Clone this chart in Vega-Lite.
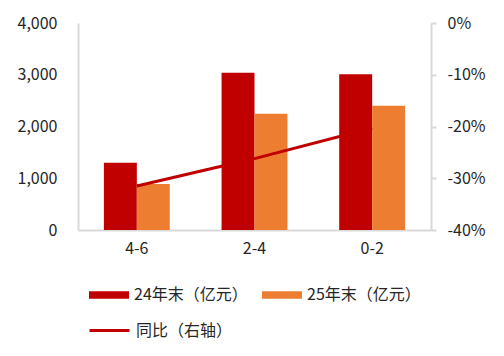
{
  "$schema": "https://vega.github.io/schema/vega-lite/v6.json",
  "width": 353,
  "height": 207,
  "autosize": {"type": "none"},
  "padding": {"left": 78, "top": 23, "right": 73, "bottom": 126},
  "background": "white",
  "config": {
    "view": {"stroke": null},
    "font": "Noto Sans CJK SC",
    "axis": {"labelFont": "Noto Sans CJK SC", "labelFontSize": 16, "labelColor": "#262626", "domainColor": "#d9d9d9", "domainWidth": 2, "grid": false, "title": null},
    "legend": {"labelFont": "Noto Sans CJK SC", "labelFontSize": 16, "labelColor": "#262626", "padding": 0, "title": null}
  },
  "datasets": {
    "bars": [
      {"cat": "4-6", "series": "24年末（亿元）", "value": 1300},
      {"cat": "4-6", "series": "25年末（亿元）", "value": 890},
      {"cat": "2-4", "series": "24年末（亿元）", "value": 3040},
      {"cat": "2-4", "series": "25年末（亿元）", "value": 2245},
      {"cat": "0-2", "series": "24年末（亿元）", "value": 3010},
      {"cat": "0-2", "series": "25年末（亿元）", "value": 2400}
    ],
    "line": [
      {"cat": "4-6", "name": "同比（右轴）", "yoy": -0.315},
      {"cat": "2-4", "name": "同比（右轴）", "yoy": -0.262},
      {"cat": "0-2", "name": "同比（右轴）", "yoy": -0.203}
    ]
  },
  "layer": [
    {
      "data": {"name": "bars"},
      "mark": {"type": "bar"},
      "encoding": {
        "x": {"field": "cat", "type": "nominal", "sort": ["4-6", "2-4", "0-2"],
              "scale": {"paddingInner": 0.44, "paddingOuter": 0.22},
              "axis": {"labelAngle": 0, "ticks": false, "labelPadding": 10, "title": null}},
        "xOffset": {"field": "series", "type": "nominal", "scale": {"paddingInner": 0}},
        "y": {"field": "value", "type": "quantitative",
              "scale": {"domain": [0, 4000]},
              "axis": {"values": [0, 1000, 2000, 3000, 4000], "format": ",d", "ticks": false, "labelPadding": 21, "title": null}},
        "color": {"field": "series", "type": "nominal",
                  "scale": {"domain": ["24年末（亿元）", "25年末（亿元）"], "range": ["#C00000", "#ED7D31"]},
                  "legend": {"orient": "none", "legendX": 11, "legendY": 252, "direction": "horizontal",
                             "symbolType": "M-1,-0.19H1V0.19H-1Z", "symbolSize": 1600, "symbolStrokeWidth": 0,
                             "labelOffset": 5, "columnPadding": 14}}
      }
    },
    {
      "data": {"name": "line"},
      "mark": {"type": "line", "strokeWidth": 3},
      "encoding": {
        "x": {"field": "cat", "type": "nominal", "sort": ["4-6", "2-4", "0-2"]},
        "y": {"field": "yoy", "type": "quantitative",
              "scale": {"domain": [-0.4, 0]},
              "axis": {"orient": "right", "values": [-0.4, -0.3, -0.2, -0.1, 0], "labelExpr": "replace(format(datum.value, '.0%'), '−', '-')", "ticks": true, "tickSize": 5, "tickColor": "#d9d9d9", "tickWidth": 2, "labelPadding": 11, "title": null}},
        "stroke": {"field": "name", "type": "nominal",
                   "scale": {"range": ["#C00000"]},
                   "legend": {"orient": "none", "legendX": 10, "legendY": 286,
                              "symbolType": "stroke", "symbolSize": 1600, "symbolStrokeWidth": 3, "labelOffset": 5}}
      }
    }
  ],
  "resolve": {"scale": {"y": "independent"}}
}
